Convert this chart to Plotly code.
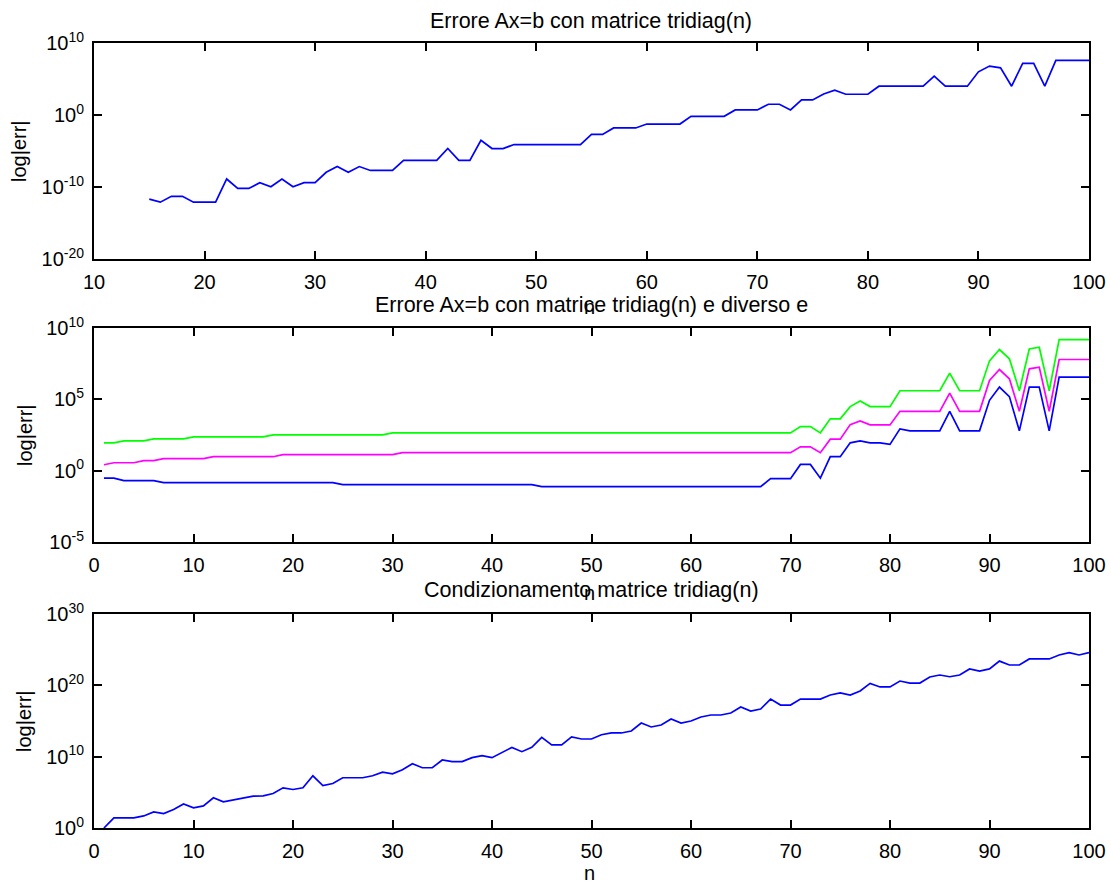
import plotly.graph_objects as go

# ---- data -------------------------------------------------------------
# Panel 1: error of Ax=b with tridiag(n), n = 15..100
n_top = list(range(15, 101))
err_top = [
    2.1e-12, 7.9e-13, 5.0e-12, 5.0e-12, 7.9e-13, 7.9e-13, 7.9e-13, 1.3e-9, 6.3e-11, 6.3e-11,
    4.0e-10, 1.1e-10, 1.3e-9, 1.1e-10, 4.0e-10, 4.0e-10, 1.1e-8, 6.9e-8, 1.1e-8, 6.9e-8,
    2.0e-8, 2.0e-8, 2.0e-8, 5.0e-7, 5.0e-7, 5.0e-7, 5.0e-7, 2.2e-5, 5.0e-7, 5.0e-7,
    3.0e-4, 2.2e-5, 2.2e-5, 7.9e-5, 7.9e-5, 7.9e-5, 7.9e-5, 7.9e-5, 7.9e-5, 7.9e-5,
    2.0e-3, 2.0e-3, 1.6e-2, 1.6e-2, 1.6e-2, 5.5e-2, 5.5e-2, 5.5e-2, 5.5e-2, 0.65,
    0.65, 0.65, 0.65, 5.0, 5.0, 5.0, 31, 31, 5.0, 123,
    123, 850, 2750, 760, 760, 760, 1.0e4, 1.0e4, 1.0e4, 1.0e4,
    1.0e4, 2.5e5, 1.0e4, 1.0e4, 1.0e4, 1.0e6, 6.3e6, 3.6e6, 1.0e4, 1.45e7,
    1.45e7, 1.0e4, 3.8e7, 3.8e7, 3.8e7, 3.8e7,
]

# Panel 2: error for three perturbation sizes e, n = 1..100
n_mid = list(range(1, 101))
err_blue = [
    0.30, 0.30, 0.20, 0.20, 0.20, 0.20, 0.145, 0.145, 0.145, 0.145,
    0.145, 0.145, 0.145, 0.145, 0.145, 0.145, 0.145, 0.145, 0.145, 0.145,
    0.145, 0.145, 0.145, 0.145, 0.105, 0.105, 0.105, 0.105, 0.105, 0.105,
    0.105, 0.105, 0.105, 0.105, 0.105, 0.105, 0.105, 0.105, 0.105, 0.105,
    0.105, 0.105, 0.105, 0.105, 0.076, 0.076, 0.076, 0.076, 0.076, 0.076,
    0.076, 0.076, 0.076, 0.076, 0.076, 0.076, 0.076, 0.076, 0.076, 0.076,
    0.076, 0.076, 0.076, 0.076, 0.076, 0.076, 0.076, 0.275, 0.275, 0.275,
    2.75, 2.75, 0.30, 9.5, 9.5, 89, 123, 89, 89, 69,
    850, 620, 620, 620, 620, 1.45e4, 620, 620, 620, 8.5e4,
    7.2e5, 1.55e5, 620, 7.2e5, 7.2e5, 620, 3.6e6, 3.6e6, 3.6e6, 3.6e6,
]
err_magenta = [
    2.6, 3.6, 3.6, 3.6, 5.0, 5.0, 6.9, 6.9, 6.9, 6.9,
    6.9, 9.5, 9.5, 9.5, 9.5, 9.5, 9.5, 9.5, 13.2, 13.2,
    13.2, 13.2, 13.2, 13.2, 13.2, 13.2, 13.2, 13.2, 13.2, 13.2,
    18.2, 18.2, 18.2, 18.2, 18.2, 18.2, 18.2, 18.2, 18.2, 18.2,
    18.2, 18.2, 18.2, 18.2, 18.2, 18.2, 18.2, 18.2, 18.2, 18.2,
    18.2, 18.2, 18.2, 18.2, 18.2, 18.2, 18.2, 18.2, 18.2, 18.2,
    18.2, 18.2, 18.2, 18.2, 18.2, 18.2, 18.2, 18.2, 18.2, 18.2,
    47, 47, 18.2, 162, 162, 1700, 3100, 1620, 1620, 1620,
    1.45e4, 1.45e4, 1.45e4, 1.45e4, 1.45e4, 2.75e5, 1.45e4, 1.45e4, 1.45e4, 2.1e6,
    1.23e7, 2.75e6, 1.45e4, 1.38e7, 1.8e7, 1.45e4, 6.2e7, 6.2e7, 6.2e7, 6.2e7,
]
err_green = [
    89, 89, 123, 123, 123, 170, 170, 170, 170, 234,
    234, 234, 234, 234, 234, 234, 234, 324, 324, 324,
    324, 324, 324, 324, 324, 324, 324, 324, 324, 447,
    447, 447, 447, 447, 447, 447, 447, 447, 447, 447,
    447, 447, 447, 447, 447, 447, 447, 447, 447, 447,
    447, 447, 447, 447, 447, 447, 447, 447, 447, 447,
    447, 447, 447, 447, 447, 447, 447, 447, 447, 447,
    1230, 1230, 447, 4270, 4270, 3.1e4, 7.6e4, 3.1e4, 3.1e4, 3.1e4,
    4.0e5, 4.0e5, 4.0e5, 4.0e5, 4.0e5, 6.9e6, 4.0e5, 4.0e5, 4.0e5, 5.0e7,
    3.1e8, 6.9e7, 4.0e5, 3.4e8, 4.5e8, 4.0e5, 1.55e9, 1.55e9, 1.55e9, 1.55e9,
]

# Panel 3: condition number of tridiag(n), n = 1..100
n_bot = list(range(1, 101))
cond_bot = [
    1, 26, 26, 26, 49, 178, 105, 380, 2400, 660,
    1260, 1.7e4, 4600, 7900, 1.5e4, 2.9e4, 3.2e4, 6.9e4, 4.3e5, 2.5e5,
    4.3e5, 2.1e7, 9.1e5, 1.7e6, 1.1e7, 1.1e7, 1.1e7, 2.1e7, 6.9e7, 4.0e7,
    1.5e8, 1.0e9, 2.8e8, 2.8e8, 3.4e9, 2.0e9, 2.0e9, 7.2e9, 1.4e10, 7.2e9,
    3.6e10, 2.0e11, 5.0e10, 2.0e11, 5.0e12, 4.4e11, 4.4e11, 5.8e12, 3.0e12, 3.0e12,
    1.2e13, 2.1e13, 2.1e13, 4.0e13, 5.2e14, 1.45e14, 2.75e14, 1.9e15, 5.2e14, 1.0e15,
    3.6e15, 6.9e15, 6.9e15, 1.3e16, 9.1e16, 2.5e16, 4.8e16, 1.2e18, 1.7e17, 1.7e17,
    1.2e18, 1.2e18, 1.2e18, 4.4e18, 8.5e18, 4.4e18, 1.6e19, 1.9e20, 5.9e19, 5.9e19,
    4.0e20, 2.1e20, 2.1e20, 1.5e21, 2.8e21, 1.6e21, 2.8e21, 2.0e22, 1.0e22, 2.0e22,
    2.5e23, 7.1e22, 7.1e22, 5.0e23, 5.0e23, 5.0e23, 1.8e24, 3.8e24, 1.8e24, 3.8e24,
]

x_ticks_top = [10, 20, 30, 40, 50, 60, 70, 80, 90, 100]
x_ticks = [0, 10, 20, 30, 40, 50, 60, 70, 80, 90, 100]
y_ticks_top = [1e-20, 1e-10, 1, 1e10]
y_text_top = ["10<sup>-20</sup>", "10<sup>-10</sup>", "10<sup>0</sup>", "10<sup>10</sup>"]
y_ticks_mid = [1e-5, 1, 1e5, 1e10]
y_text_mid = ["10<sup>-5</sup>", "10<sup>0</sup>", "10<sup>5</sup>", "10<sup>10</sup>"]
y_ticks_bot = [1, 1e10, 1e20, 1e30]
y_text_bot = ["10<sup>0</sup>", "10<sup>10</sup>", "10<sup>20</sup>", "10<sup>30</sup>"]

titles = [
    "Errore Ax=b con matrice tridiag(n)",
    "Errore Ax=b con matrice tridiag(n) e diverso e",
    "Condizionamento matrice tridiag(n)",
]

# ---- figure -----------------------------------------------------------
W, H = 1111, 885
FONT = "Arial, Liberation Sans, Helvetica, sans-serif"
FS = 20
TFS = 21.5
LW = 1.7


def px_x(p):
    return p / W


def px_y(p):
    return 1 - p / H


fig = go.Figure()
fig.add_trace(go.Scatter(x=n_top, y=err_top, mode="lines",
                         line=dict(color="#0000ff", width=LW), xaxis="x", yaxis="y"))
fig.add_trace(go.Scatter(x=n_mid, y=err_blue, mode="lines",
                         line=dict(color="#0000ff", width=LW), xaxis="x2", yaxis="y2"))
fig.add_trace(go.Scatter(x=n_mid, y=err_magenta, mode="lines",
                         line=dict(color="#ff00ff", width=LW), xaxis="x2", yaxis="y2"))
fig.add_trace(go.Scatter(x=n_mid, y=err_green, mode="lines",
                         line=dict(color="#00ff00", width=LW), xaxis="x2", yaxis="y2"))
fig.add_trace(go.Scatter(x=n_bot, y=cond_bot, mode="lines",
                         line=dict(color="#0000ff", width=LW), xaxis="x3", yaxis="y3"))

# panel boxes in pixels (top, bottom)
x_left, x_right = 94, 1089
boxes = [(43, 259), (328, 542), (614, 828)]

axis_common = dict(
    showline=True, linecolor="black", linewidth=2, mirror="allticks",
    ticks="inside", ticklen=8, tickwidth=2, tickcolor="black",
    showgrid=False, zeroline=False, automargin=False,
    tickfont=dict(family=FONT, size=FS, color="black"),
)

xdom = [px_x(x_left), px_x(x_right)]
layout = dict(
    template="none",
    width=W, height=H, autosize=False,
    margin=dict(l=0, r=0, t=0, b=0, pad=0),
    paper_bgcolor="white", plot_bgcolor="white",
    showlegend=False,
    font=dict(family=FONT, size=FS, color="black"),
)

x_ranges = [[10, 100], [0, 100], [0, 100]]
x_tickvals = [x_ticks_top, x_ticks, x_ticks]
y_ranges = [[-20, 10], [-5, 10], [0, 30]]
y_tv = [y_ticks_top, y_ticks_mid, y_ticks_bot]
y_tt = [y_text_top, y_text_mid, y_text_bot]

for i, (top, bot) in enumerate(boxes):
    sfx = "" if i == 0 else str(i + 1)
    ydom = [px_y(bot), px_y(top)]
    layout["xaxis" + sfx] = dict(
        axis_common, domain=xdom, range=x_ranges[i], tickvals=x_tickvals[i],
        anchor="y" + sfx, ticklabelstandoff=4,
    )
    layout["yaxis" + sfx] = dict(
        axis_common, domain=ydom, type="log", range=y_ranges[i],
        tickvals=y_tv[i], ticktext=y_tt[i], anchor="x" + sfx, ticklabelstandoff=4,
    )

fig.update_layout(**layout)

# titles, x labels and y labels
title_y = [21, 305, 590]
xlabel_y = [307, 593, 873]
ylabel_x = [19, 25, 24]
ann = []
for i, (top, bot) in enumerate(boxes):
    ann.append(dict(text=titles[i], x=px_x(591), y=px_y(title_y[i]), xref="paper", yref="paper",
                    showarrow=False, xanchor="center", yanchor="middle",
                    font=dict(family=FONT, size=TFS, color="black")))
    ann.append(dict(text="n", x=px_x(589), y=px_y(xlabel_y[i]), xref="paper", yref="paper",
                    showarrow=False, xanchor="center", yanchor="middle",
                    font=dict(family=FONT, size=FS, color="black")))
    ann.append(dict(text="log|err|", x=px_x(ylabel_x[i]), y=px_y((top + bot) / 2),
                    xref="paper", yref="paper", textangle=-90,
                    showarrow=False, xanchor="center", yanchor="middle",
                    font=dict(family=FONT, size=FS, color="black")))
fig.update_layout(annotations=ann)

fig.write_html("out.html")
